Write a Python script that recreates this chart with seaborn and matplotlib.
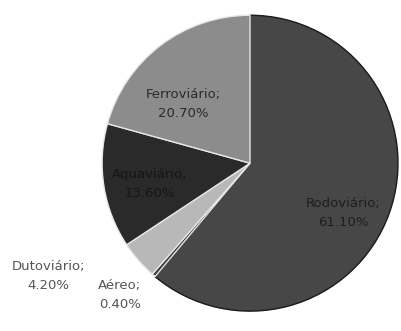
import numpy as np
import seaborn as sns
import matplotlib.pyplot as plt

modais = ['Rodoviário', 'Aéreo', 'Dutoviário', 'Aquaviário', 'Ferroviário']
percentuais = [61.1, 0.4, 4.2, 13.6, 20.7]
cores = ['#474747', '#3a3a3a', '#b8b8b8', '#2a2a2a', '#8c8c8c']
# label positions in pie data units
rot_x = [0.63, -0.88, -1.36, -0.68, -0.45]
rot_y = [-0.34, -0.89, -0.76, -0.14, 0.40]
rot_cor = ['#1e1e1e', '#555555', '#555555', '#151515', '#2a2a2a']

sns.set_theme(style='white')
plt.rcParams['font.family'] = ['DejaVu Sans']

fig = plt.figure(figsize=(4.02, 3.31), dpi=100)
ax = fig.add_axes([0.254, 0.060, 0.736, 0.894])

wedges, _ = ax.pie(percentuais, colors=cores, startangle=90, counterclock=False,
                   wedgeprops=dict(edgecolor='#e6e6e6', linewidth=1.0))
wedges[0].set_edgecolor('#1a1a1a')

for nome, p, x, y, c in zip(modais, percentuais, rot_x, rot_y, rot_cor):
    ax.text(x, y, f'{nome};\n{p:.2f}%', ha='center', va='center', fontsize=9.5,
            color=c, linespacing=1.6)

ax.set_xlim(-1, 1)
ax.set_ylim(-1, 1)
ax.set_aspect('equal')
ax.axis('off')

plt.savefig('out.png', dpi=100)
